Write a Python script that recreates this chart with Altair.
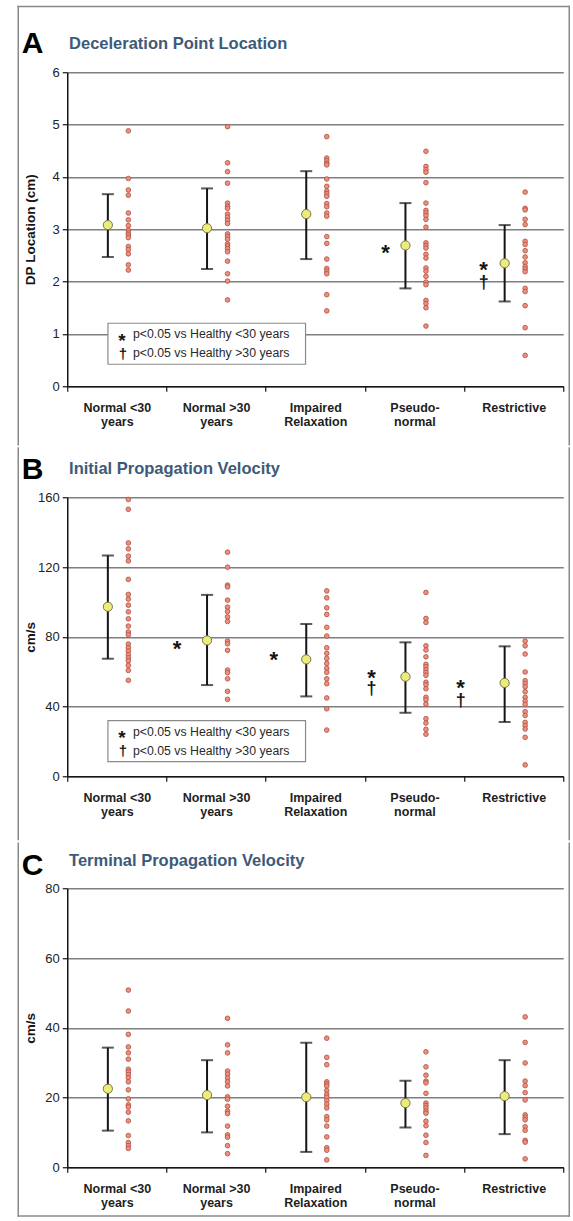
import json
import altair as alt
import pandas as pd

FONT = "Liberation Sans"

CATS = ["Normal <30 years", "Normal >30 years", "Impaired Relaxation", "Pseudo-normal", "Restrictive"]
CAT_LINES = {
    "Normal <30 years": ["Normal <30", "years"],
    "Normal >30 years": ["Normal >30", "years"],
    "Impaired Relaxation": ["Impaired", "Relaxation"],
    "Pseudo-normal": ["Pseudo-", "normal"],
    "Restrictive": ["Restrictive"],
}

LEGEND_SYMS = ["*", "\u2020"]
LEGEND_TEXT = ["p<0.05 vs Healthy <30 years", "p<0.05 vs Healthy >30 years"]

# ---------------- Panel A: Deceleration Point Location ----------------
A_LETTER = "A"
A_TITLE = "Deceleration Point Location"
A_YTITLE = "DP Location (cm)"
A_TICKS = [0, 1, 2, 3, 4, 5, 6]
A_MEAN = [3.08, 3.02, 3.29, 2.69, 2.35]
A_HI = [3.67, 3.78, 4.11, 3.50, 3.08]
A_LO = [2.47, 2.24, 2.43, 1.87, 1.62]
A_DOTS = [
    [4.88, 3.97, 3.75, 3.65, 3.31, 3.18, 3.07, 2.98, 2.93, 2.89, 2.84, 2.67, 2.61, 2.53, 2.32, 2.22],
    [4.96, 4.27, 4.10, 3.88, 3.50, 3.44, 3.40, 3.29, 3.23, 3.17, 3.11, 2.91, 2.86, 2.81, 2.72, 2.68,
     2.63, 2.57, 2.39, 2.15, 2.01, 1.65],
    [4.77, 4.36, 4.31, 4.26, 4.23, 3.96, 3.82, 3.73, 3.68, 3.63, 3.49, 3.43, 3.31, 3.25, 2.86, 2.73,
     2.43, 2.25, 2.20, 2.15, 1.75, 1.44],
    [4.49, 4.20, 4.14, 4.09, 3.89, 3.50, 3.36, 3.31, 3.26, 3.19, 3.04, 2.74, 2.69, 2.64, 2.52, 2.45,
     2.26, 2.20, 2.10, 1.99, 1.94, 1.64, 1.58, 1.50, 1.15],
    [3.71, 3.40, 3.37, 3.19, 3.09, 2.77, 2.71, 2.59, 2.47, 2.36, 2.29, 2.24, 2.19, 1.87, 1.81, 1.54,
     1.12, 0.59],
]
A_MARKS_CAT = ["Pseudo-normal", "Restrictive", "Restrictive"]
A_MARKS_SYM = ["*", "*", "\u2020"]
A_MARKS_VAL = [2.66, 2.33, 1.98]

# ---------------- Panel B: Initial Propagation Velocity ----------------
B_LETTER = "B"
B_TITLE = "Initial Propagation Velocity"
B_YTITLE = "cm/s"
B_TICKS = [0, 40, 80, 120, 160]
B_MEAN = [97.2, 77.9, 67.0, 57.1, 53.5]
B_HI = [126.6, 104.0, 87.3, 76.8, 74.5]
B_LO = [67.4, 52.3, 45.8, 36.4, 31.1]
B_DOTS = [
    [158.7, 153.1, 133.8, 130.4, 126.2, 123.5, 112.9, 104.3, 101.6, 98.1, 94.3, 90.3, 86.1, 82.7,
     81.1, 75.8, 73.7, 71.8, 69.7, 67.9, 66.2, 63.6, 60.7, 55.0],
    [128.5, 119.9, 109.6, 108.6, 101.0, 97.0, 94.5, 91.4, 88.8, 77.5, 76.0, 72.2, 60.9, 59.4, 55.9,
     48.7, 44.1],
    [106.3, 102.3, 96.6, 92.8, 85.4, 80.4, 73.7, 70.5, 67.6, 64.7, 61.9, 59.6, 55.9, 53.1, 44.9,
     38.7, 26.5],
    [105.4, 90.5, 88.2, 74.8, 72.4, 68.5, 64.2, 62.8, 61.1, 59.6, 57.9, 53.9, 52.5, 50.2, 45.3, 43.8,
     41.4, 33.0, 30.5, 26.9, 24.1],
    [77.5, 74.8, 70.1, 59.8, 54.8, 53.1, 51.3, 48.5, 45.3, 43.1, 41.2, 37.0, 34.9, 30.9, 29.0, 27.1,
     22.3, 6.5],
]
B_MARKS_CAT = ["Normal >30 years", "Impaired Relaxation", "Pseudo-normal", "Pseudo-normal",
               "Restrictive", "Restrictive"]
B_MARKS_SYM = ["*", "*", "*", "\u2020", "*", "\u2020"]
B_MARKS_VAL = [76.4, 70.1, 59.6, 50.2, 53.9, 43.3]

# ---------------- Panel C: Terminal Propagation Velocity ----------------
C_LETTER = "C"
C_TITLE = "Terminal Propagation Velocity"
C_YTITLE = "cm/s"
C_TICKS = [0, 20, 40, 60, 80]
C_MEAN = [22.5, 20.7, 20.1, 18.4, 20.4]
C_HI = [34.3, 30.7, 35.7, 24.8, 30.7]
C_LO = [10.5, 10.0, 4.4, 11.4, 9.5]
C_DOTS = [
    [50.8, 44.8, 38.1, 34.5, 32.8, 31.0, 28.1, 27.4, 26.6, 25.7, 24.5, 22.2, 19.6, 17.9, 17.3, 15.8,
     13.3, 9.1, 7.1, 6.2, 5.4],
    [42.7, 35.1, 32.8, 27.6, 26.7, 25.6, 24.5, 23.3, 20.2, 19.5, 17.5, 16.1, 15.4, 11.8, 9.3, 8.6,
     6.2, 3.9],
    [37.0, 31.5, 29.4, 24.5, 23.9, 23.3, 22.0, 20.9, 20.1, 19.1, 18.1, 17.0, 14.5, 13.6, 11.8, 8.7,
     5.6, 4.9, 2.1],
    [33.1, 28.8, 26.4, 24.7, 24.2, 21.2, 18.4, 17.7, 17.0, 16.1, 15.5, 13.2, 11.9, 9.2, 7.1, 3.4],
    [43.1, 35.8, 29.9, 24.7, 23.4, 21.4, 19.3, 15.0, 14.3, 13.6, 11.6, 10.6, 7.7, 7.2, 2.4],
]

# ---------------- styling / layout ----------------
W = 496
BAR_DX = -9
DOT_DX = 11.5
MARK_DX = {
    "A": {"Pseudo-normal": -29, "Restrictive": -30},
    "B": {"Normal >30 years": -39, "Impaired Relaxation": -41.5, "Pseudo-normal": -43, "Restrictive": -53},
}
GRID = "#7f7f7f"
FRAME = "#8a8a8a"
INK = "#151515"
TITLE_COLOR = "#3d5a78"
DOT_FILL = "#ef8e7e"
DOT_STROKE = "#a9503f"
MEAN_FILL = "#ecec7a"
MEAN_STROKE = "#77774a"

one = pd.DataFrame({"k": [0]})

label_expr = ""
for c in CATS:
    label_expr += "datum.value == %s ? %s : " % (json.dumps(c), json.dumps(CAT_LINES[c]))
label_expr += "datum.label"


def txt(text, x, y, size, weight="normal", color="#000", align="left", baseline="alphabetic"):
    return alt.Chart(one).mark_text(
        text=text, font=FONT, fontSize=size, fontWeight=weight, color=color,
        align=align, baseline=baseline,
    ).encode(x=alt.value(x), y=alt.value(y))


def vrule(x, y1, y2):
    return alt.Chart(one).mark_rule(color=FRAME, strokeWidth=1.5, strokeCap="square").encode(
        x=alt.value(x), y=alt.value(y1), y2=alt.value(y2))


def hrule(y, x1, x2):
    return alt.Chart(one).mark_rule(color=FRAME, strokeWidth=1.5, strokeCap="square").encode(
        y=alt.value(y), x=alt.value(x1), x2=alt.value(x2))


def panel(key, letter, title, ytitle, ticks, mean, hi, lo, dots, H, frame_top, frame_bot,
          letter_y, title_y, legend_y=None, marks=None, top_border=False, bottom_border=False):
    ymax = ticks[-1]
    xenc = alt.X(
        "cat:N", sort=CATS,
        scale=alt.Scale(paddingInner=0, paddingOuter=0),
        axis=alt.Axis(
            title=None, tickBand="extent", grid=False, labelAngle=0,
            domainColor=INK, domainWidth=1.5, tickColor=INK, tickWidth=1.2, tickSize=5,
            labelFont=FONT, labelFontSize=12.5, labelFontWeight="bold", labelColor="#1e1e1e",
            labelPadding=10, labelLineHeight=14, labelExpr=label_expr,
        ),
    )
    yscale = alt.Scale(domain=[0, ymax], nice=False, zero=True)
    yaxis = alt.Axis(
        values=ticks, grid=True, gridColor=GRID, gridWidth=1.4,
        domainColor=INK, domainWidth=1.5, tickColor=INK, tickWidth=1.2, tickSize=5,
        labelFont=FONT, labelFontSize=13, labelColor="#222", labelPadding=3,
        title=ytitle, titleFont=FONT, titleFontSize=13.5, titleFontWeight="bold", titleColor=INK,
        titleAngle=270, titleX=-36.5, titleY=H / 2, titleAlign="center", titleBaseline="middle",
    )

    summ = pd.DataFrame({"cat": CATS, "mean": mean, "hi": hi, "lo": lo})
    rows = [(c, v) for c, vals in zip(CATS, dots) for v in vals]
    ddf = pd.DataFrame(rows, columns=["cat", "v"])

    base = alt.Chart(summ)
    bar = base.mark_rule(color=INK, strokeWidth=2, xOffset=BAR_DX).encode(
        x=xenc, y=alt.Y("lo:Q", scale=yscale, axis=yaxis), y2="hi:Q")
    cap_hi = base.mark_tick(color=INK, thickness=2, size=12, xOffset=BAR_DX).encode(
        x=xenc, y=alt.Y("hi:Q", scale=yscale, axis=yaxis))
    cap_lo = base.mark_tick(color=INK, thickness=2, size=12, xOffset=BAR_DX).encode(
        x=xenc, y=alt.Y("lo:Q", scale=yscale, axis=yaxis))
    mpt = base.mark_circle(size=85, fill=MEAN_FILL, stroke=MEAN_STROKE, strokeWidth=1, opacity=1,
                           xOffset=BAR_DX).encode(x=xenc, y=alt.Y("mean:Q", scale=yscale, axis=yaxis))
    dpt = alt.Chart(ddf).mark_circle(size=22, fill=DOT_FILL, stroke=DOT_STROKE, strokeWidth=0.8,
                                     opacity=1, xOffset=DOT_DX).encode(
        x=xenc, y=alt.Y("v:Q", scale=yscale, axis=yaxis))

    layers = [bar, cap_hi, cap_lo, mpt, dpt]

    if marks is not None:
        mcats, msyms, mvals = marks
        for c, s, v in zip(mcats, msyms, mvals):
            mdf = pd.DataFrame({"cat": [c], "v": [v]})
            if s == "*":
                fs, dy = 22, 12.5
            else:
                fs, dy = 18, 5.3
            layers.append(
                alt.Chart(mdf).mark_text(text=s, font=FONT, fontSize=fs, fontWeight="bold", color=INK,
                                         align="center", baseline="alphabetic", dy=dy,
                                         xOffset=MARK_DX[key][c]).encode(
                    x=xenc, y=alt.Y("v:Q", scale=yscale, axis=yaxis)))

    if legend_y is not None:
        layers.append(alt.Chart(one).mark_rect(fill="white", stroke=FRAME, strokeWidth=1.2).encode(
            x=alt.value(40.7), x2=alt.value(238.3), y=alt.value(legend_y), y2=alt.value(legend_y + 41)))
        layers.append(txt(LEGEND_SYMS[0], 54.7, legend_y + 13.3 + 10.5, 19, "bold", INK, "center"))
        layers.append(txt(LEGEND_SYMS[1], 55.7, legend_y + 30.8 + 4.5, 15, "bold", INK, "center"))
        layers.append(txt(LEGEND_TEXT[0], 65.7, legend_y + 15, 12.3, "normal", "#2a2a2a"))
        layers.append(txt(LEGEND_TEXT[1], 65.7, legend_y + 34, 12.3, "normal", "#2a2a2a"))

    layers.append(txt(letter, -45.5, letter_y, 30, "bold", "#000"))
    layers.append(txt(title, 1.8, title_y, 16.5, "bold", TITLE_COLOR))

    # figure frame pieces
    layers.append(vrule(-49, frame_top, frame_bot))
    layers.append(vrule(W + 6, frame_top, frame_bot))
    if top_border:
        layers.append(hrule(frame_top, -49, W + 6))
    if bottom_border:
        layers.append(hrule(frame_bot, -49, W + 6))

    return alt.layer(*layers).properties(width=W, height=H)


pa = panel("A", A_LETTER, A_TITLE, A_YTITLE, A_TICKS, A_MEAN, A_HI, A_LO, A_DOTS, 314,
           -65.7, 372.55, -19, -23.4, legend_y=251,
           marks=(A_MARKS_CAT, A_MARKS_SYM, A_MARKS_VAL), top_border=True)
pb = panel("B", B_LETTER, B_TITLE, B_YTITLE, B_TICKS, B_MEAN, B_HI, B_LO, B_DOTS, 279,
           -49.25, 342.25, -18.7, -23, legend_y=223.3,
           marks=(B_MARKS_CAT, B_MARKS_SYM, B_MARKS_VAL))
pc = panel("C", C_LETTER, C_TITLE, C_YTITLE, C_TICKS, C_MEAN, C_HI, C_LO, C_DOTS, 279,
           -45.05, 327.7, -13.3, -22.3, bottom_border=True)

chart = alt.vconcat(pa, pb, pc, spacing=0).properties(
    padding={"left": 16.25, "top": 5.25, "right": 0, "bottom": 0},
    background="white",
).configure_view(stroke=None)

chart.save("out.html", embed_options={"renderer": "svg", "actions": False})
